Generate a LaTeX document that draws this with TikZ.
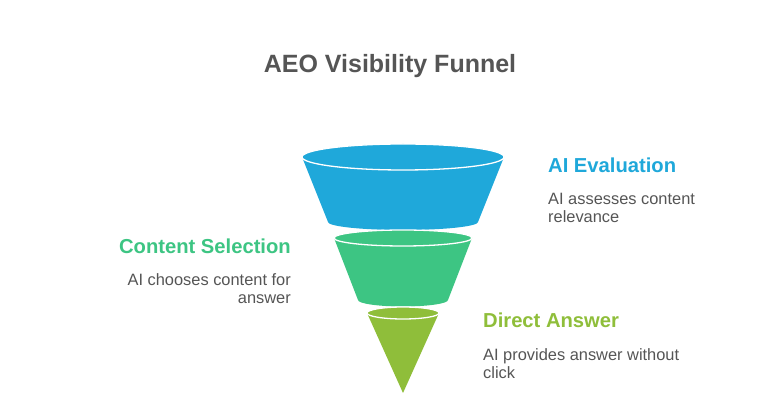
\documentclass[tikz,border=0pt]{standalone}
\usepackage{fontspec}
\setmainfont{Liberation Sans}
\definecolor{fblue}{HTML}{1FA8DA}
\definecolor{fgreen}{HTML}{3DC583}
\definecolor{folive}{HTML}{8FBE3A}
\definecolor{tgray}{HTML}{555555}
\begin{document}
\begin{tikzpicture}[x=1pt,y=-1pt,
  rim/.style={draw=white,line width=1.3pt},
  ttl/.style={inner sep=0,font=\bfseries\fontsize{25}{30}\selectfont,text=tgray},
  head/.style={inner sep=0,font=\bfseries\fontsize{20.2}{24}\selectfont},
  body/.style={inner sep=0,font=\fontsize{16.4}{18}\selectfont,text=tgray}]
\useasboundingbox[fill=white] (0,0) rectangle (780,411);
% blue segment
\fill[fblue] (302,157) -- (328,222) arc[start angle=180,end angle=0,x radius=75,y radius=8] -- (504,157) -- cycle;
\fill[fblue] (403,157) ellipse[x radius=101,y radius=13];
\draw[rim] (403,157) ellipse[x radius=101,y radius=13];
% green segment
\fill[fgreen] (334,238) -- (358,300) arc[start angle=180,end angle=0,x radius=45,y radius=6.5] -- (472,238) -- cycle;
\fill[fgreen] (403,238) ellipse[x radius=69,y radius=8];
\draw[rim] (403,238) ellipse[x radius=69,y radius=8];
% olive segment
\fill[folive] (367,313) -- (403,393) -- (439,313) -- cycle;
\fill[folive] (403,313) ellipse[x radius=36,y radius=6];
\draw[rim] (403,313) ellipse[x radius=36,y radius=6];
% texts
\node[ttl,anchor=base] (title) at (390,73) {AEO Visibility Funnel};
\node[head,text=fblue,anchor=base west] (h1) at (548,173) {AI Evaluation};
\node[body,anchor=north west,align=left] (b1) at (548,193.5) {AI assesses content\\relevance};
\node[head,text=fgreen,anchor=base east] (h2) at (291,254) {Content Selection};
\node[body,anchor=north east,align=right] (b2) at (291,273.5) {AI chooses content for\\answer};
\node[head,text=folive,anchor=base west] (h3) at (483,328) {Direct Answer};
\node[body,anchor=north west,align=left] (b3) at (483,348.5) {AI provides answer without\\click};
\end{tikzpicture}
\end{document}
